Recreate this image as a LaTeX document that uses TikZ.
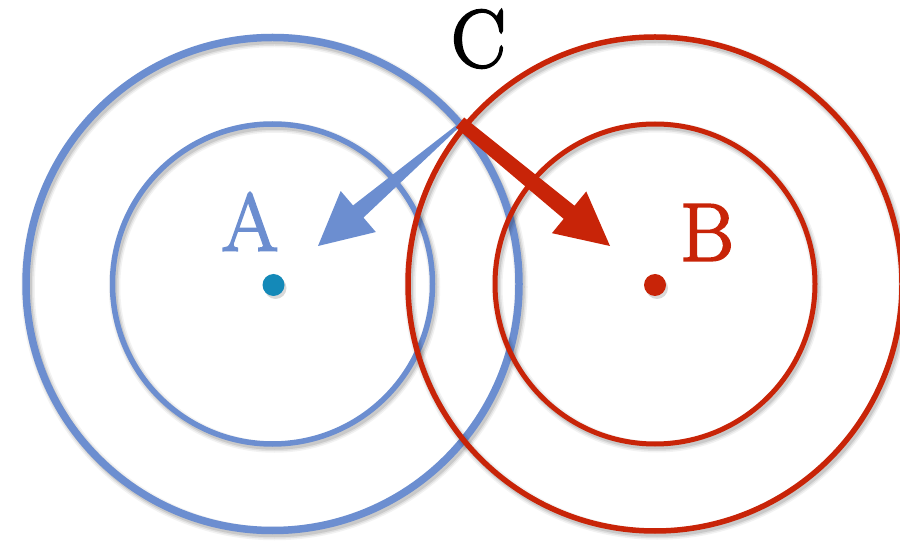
\documentclass[tikz,border=0pt]{standalone}
\usepackage{fontspec}
\newfontfamily\lblfont{Latin Modern Roman}[FakeBold=2.5]
\usetikzlibrary{calc}
\definecolor{myblue}{RGB}{108,142,208}
\definecolor{myred}{RGB}{200,36,8}
\definecolor{dotblue}{RGB}{20,137,184}
\newcommand\fatarrow[7]{%
  \coordinate (#1hb) at ($(#2)!#6pt!(#1)$);
  \fill[#7] ($(#1)!#3pt!90:(#2)$) -- ($(#1hb)!#4pt!90:(#2)$) -- ($(#1hb)!#5pt!90:(#2)$) -- (#2)
    -- ($(#1hb)!#5pt!-90:(#2)$) -- ($(#1hb)!#4pt!-90:(#2)$) -- ($(#1)!#3pt!-90:(#2)$) -- cycle;
}
\begin{document}
\begin{tikzpicture}[x=1pt,y=-1pt,
  shd/.style={
    preaction={draw=black,opacity=0.05,line width=#1+6pt,transform canvas={shift={(2pt,-3pt)}}},
    preaction={draw=black,opacity=0.07,line width=#1+3pt,transform canvas={shift={(2pt,-3pt)}}},
    preaction={draw=black,opacity=0.10,line width=#1,transform canvas={shift={(2pt,-3pt)}}},
    line width=#1},
  dotshd/.style={preaction={fill=black,opacity=0.15,transform canvas={shift={(2pt,-3pt)}}}},
  lbl/.style={font=\lblfont\fontsize{82}{82}\selectfont, anchor=base, inner sep=0pt}]
\useasboundingbox (0,0) rectangle (900,545);
\fill[white] (0,0) rectangle (900,545);
\coordinate (cA) at (272.5,284);
\coordinate (cB) at (655,284);
\coordinate (cC) at (461,123.5);
% blue circles
\draw[myblue, shd=7.5pt] (cA) circle [radius=246.5];
\draw[myblue, shd=5.5pt] (cA) circle [radius=160];
% blue arrow
\coordinate (tA) at (318,246);
\fatarrow{cC}{tA}{1.5}{8}{27}{53}{myblue}
% red circles
\draw[myred, shd=5.5pt] (cB) circle [radius=247];
\draw[myred, shd=5pt] (cB) circle [radius=160];
% red arrow
\coordinate (cC2) at (460,122.5);
\coordinate (tB) at (610,246);
\fatarrow{cC2}{tB}{6.5}{8.5}{27}{53}{myred}
% dots
\fill[dotblue, dotshd] (273.5,285) circle [radius=11];
\fill[myred, dotshd] (655,285) circle [radius=11];
% labels
\node[lbl] (lC) at (478.5,67) {C};
\node[lbl, text=myblue] (lA) at (250,250.5) {A};
\node[lbl, text=myred] (lB) at (707,260.5) {B};
\end{tikzpicture}
\end{document}
